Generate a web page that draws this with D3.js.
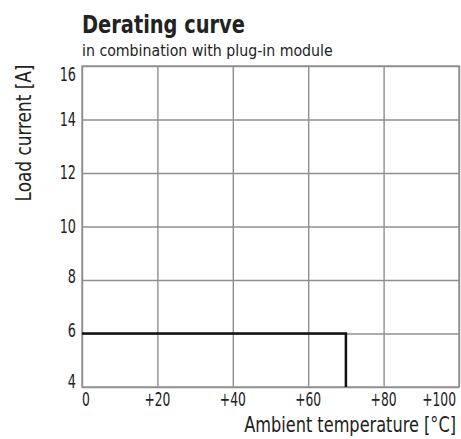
<!DOCTYPE html>
<html>
<head>
<meta charset="utf-8">
<script src="https://cdn.jsdelivr.net/npm/d3@7"></script>
<style>
  body { margin: 0; background: #fff; }
  svg text { font-family: "DejaVu Sans Condensed", "Liberation Sans Narrow", sans-serif; fill: #222; }
</style>
</head>
<body>
<svg id="canvas"></svg>
<script>
// derating curve: load current vs ambient temperature
let tempValues = [0, 70, 70];
let currentValues = [6, 6, 4];

let xTicks = [0, 20, 40, 60, 80, 100];
let xTickLabels = ['0', '+20', '+40', '+60', '+80', '+100'];
let yTicks = [4, 6, 8, 10, 12, 14, 16];

let width = 461;
let height = 439;
let plotLeft = 82;
let plotRight = 459;
let plotTop = 66;
let plotBottom = 387;

let canvas = d3.select('#canvas')
  .attr('width', width)
  .attr('height', height);

let xScale = d3.scaleLinear().domain([0, 100]).range([plotLeft, plotRight]);
let yScale = d3.scaleLinear().domain([4, 16]).range([plotBottom, plotTop]);

// narrow the text horizontally to mimic the condensed font of the original
let narrow = (sel, x, y, factor, rotate) => {
  sel.attr('transform', (d, i) => {
    let px = typeof x == 'function' ? x(d, i) : x;
    let py = typeof y == 'function' ? y(d, i) : y;
    return 'translate(' + px + ',' + py + ')' + (rotate ? ' rotate(' + rotate + ')' : '') + ' scale(' + factor + ',1)';
  });
};
let narrowTo = (sel, x, y, len, rotate) => {
  let natural = sel.node().getComputedTextLength();
  narrow(sel, x, y, len / natural, rotate);
};

// grid
let xAxis = d3.axisBottom(xScale).tickValues(xTicks).tickSize(-(plotBottom - plotTop)).tickFormat('');
let yAxis = d3.axisLeft(yScale).tickValues(yTicks).tickSize(-(plotRight - plotLeft)).tickFormat('');

let gx = canvas.append('g').attr('transform', 'translate(0,' + plotBottom + ')').call(xAxis);
let gy = canvas.append('g').attr('transform', 'translate(' + plotLeft + ',0)').call(yAxis);
[gx, gy].forEach(g => {
  g.select('.domain').remove();
  g.selectAll('line').attr('stroke', '#8f8f8f').attr('stroke-width', 1.4);
});

canvas.append('rect')
  .attr('x', plotLeft).attr('y', plotTop)
  .attr('width', plotRight - plotLeft).attr('height', plotBottom - plotTop)
  .attr('fill', 'none').attr('stroke', '#8f8f8f').attr('stroke-width', 1.4);

// tick labels
let xl = canvas.selectAll('.xlab').data(xTicks).enter().append('text')
  .attr('class', 'xlab')
  .attr('font-size', 19)
  .attr('text-anchor', (d, i) => i == 0 ? 'start' : (i == xTicks.length - 1 ? 'end' : 'middle'))
  .text((d, i) => xTickLabels[i]);
narrow(xl, (d, i) => i == xTicks.length - 1 ? xScale(d) - 3 : xScale(d), 406, 0.72);

// labels near the corners sit a little lower / higher in the original
let nudge = d => d == 16 ? 15 : (d == 4 ? 1 : (d <= 8 ? 3 : 6));
let yl = canvas.selectAll('.ylab').data(yTicks).enter().append('text')
  .attr('class', 'ylab')
  .attr('font-size', 19)
  .attr('text-anchor', 'end')
  .text(d => d);
narrow(yl, 76, d => yScale(d) + nudge(d), 0.75);

// curve
let line = d3.line()
  .x((d, i) => xScale(tempValues[i]))
  .y((d, i) => yScale(currentValues[i]));

canvas.append('path')
  .datum(tempValues)
  .attr('d', line)
  .attr('fill', 'none')
  .attr('stroke', '#111')
  .attr('stroke-width', 2.5);

// titles
let title = canvas.append('text')
  .attr('font-size', 25).attr('font-weight', 'bold')
  .text('Derating curve');
narrowTo(title, 82, 33, 163);

let subtitle = canvas.append('text')
  .attr('font-size', 15)
  .text('in combination with plug-in module');
narrowTo(subtitle, 82, 56, 251);

let ylabel = canvas.append('text')
  .attr('font-size', 20.5)
  .attr('text-anchor', 'middle')
  .text('Load current [A]');
narrowTo(ylabel, 31, 133, 137, -90);

let xlabel = canvas.append('text')
  .attr('font-size', 20.5)
  .attr('text-anchor', 'end')
  .text('Ambient temperature [°C]');
narrowTo(xlabel, 456, 432, 212);
</script>
</body>
</html>
